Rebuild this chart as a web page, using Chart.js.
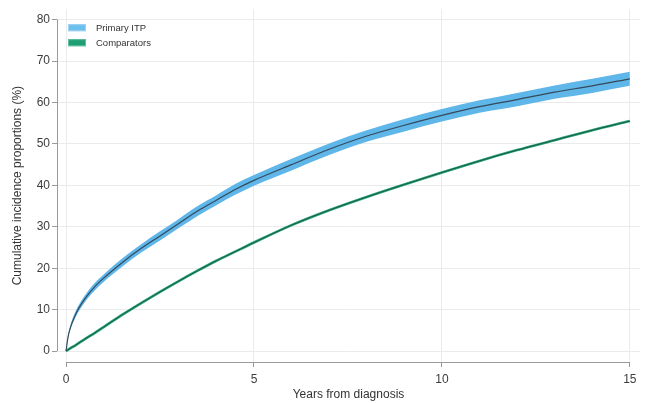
<!DOCTYPE html>
<html>
<head>
	<meta charset="utf-8">
	<title>Cumulative incidence</title>
	<style>
		html, body {
			margin: 0px;
			padding: 0px;
			background: #ffffff;
		}
		canvas {
			display: block;
		}
	</style>
</head>
<body>
	<canvas id="chart" width="646" height="403"></canvas>
	<script src="https://cdn.jsdelivr.net/npm/chart.js@4"></script>
	<script>
		// values
		const years = [0, 0.05, 0.1, 0.25, 0.5, 0.75, 1, 1.5, 2, 2.5, 3, 3.5, 4, 4.5, 5, 6, 7, 8, 9, 10, 11, 12, 13, 14, 15];
		const primaryItp = [0, 3.2, 5.2, 8.8, 12.6, 15.4, 17.6, 21.4, 24.8, 27.8, 30.8, 33.8, 36.4, 39.0, 41.2, 45.0, 48.7, 51.9, 54.5, 56.9, 59.0, 60.7, 62.5, 64.0, 65.7];
		const primaryLow = [0, 2.9, 4.7, 8.1, 11.8, 14.5, 16.7, 20.4, 23.8, 26.7, 29.7, 32.6, 35.2, 37.7, 39.9, 43.6, 47.3, 50.5, 53.0, 55.4, 57.5, 59.1, 60.9, 62.3, 64.0];
		const primaryHigh = [0, 3.5, 5.7, 9.5, 13.4, 16.3, 18.5, 22.4, 25.8, 28.9, 31.9, 35.0, 37.6, 40.3, 42.5, 46.4, 50.1, 53.3, 56.0, 58.4, 60.5, 62.3, 64.1, 65.7, 67.4];
		const comparators = [0, 0.3, 0.6, 1.4, 2.9, 4.3, 5.8, 8.8, 11.6, 14.3, 16.9, 19.4, 21.8, 24.0, 26.2, 30.4, 34.0, 37.2, 40.2, 43.1, 45.9, 48.5, 50.9, 53.3, 55.5];
		const xTicks = [0, 5, 10, 15];
		const yTicks = [0, 10, 20, 30, 40, 50, 60, 70, 80];

		const pts = arr => arr.map((v, i) => ({ x: years[i], y: v }));

		const legendItems = [
			{ text: "Primary ITP", fill: "#6dbfee", stroke: "#9fd3f2" },
			{ text: "Comparators", fill: "#1f9e74", stroke: "#5fbf9c" }
		];

		// legend inside the plot, top left
		const insideLegend = {
			id: "insideLegend",
			afterDatasetsDraw(chart) {
				const { ctx, chartArea } = chart;
				ctx.save();
				ctx.font = "9.5px 'Liberation Sans', Arial, sans-serif";
				ctx.textBaseline = "middle";
				legendItems.forEach((it, i) => {
					const x = chartArea.left + 11;
					const y = chartArea.top + 15 + i * 15;
					ctx.fillStyle = it.fill;
					ctx.fillRect(x, y, 18, 7);
					ctx.strokeStyle = it.stroke;
					ctx.lineWidth = 1;
					ctx.strokeRect(x + 0.5, y + 0.5, 17, 6);
					ctx.fillStyle = "#333";
					ctx.fillText(it.text, x + 28, y + 4);
				});
				ctx.restore();
			}
		};

		// detached axis lines, Stata style
		const axisLines = {
			id: "axisLines",
			afterDraw(chart) {
				const { ctx, chartArea, scales } = chart;
				const xs = scales.x, ys = scales.y;
				ctx.save();
				ctx.strokeStyle = "#9a9a9a";
				ctx.lineWidth = 1;
				ctx.beginPath();
				ctx.moveTo(chartArea.left + 0.5, ys.getPixelForValue(yTicks[yTicks.length - 1]));
				ctx.lineTo(chartArea.left + 0.5, ys.getPixelForValue(yTicks[0]));
				ctx.moveTo(xs.getPixelForValue(xTicks[0]), chartArea.bottom + 0.5);
				ctx.lineTo(xs.getPixelForValue(xTicks[xTicks.length - 1]), chartArea.bottom + 0.5);
				ctx.stroke();
				ctx.restore();
			}
		};

		const font = { family: "'Liberation Sans', Arial, sans-serif", size: 12 };

		new Chart(document.getElementById("chart"), {
			type: "line",
			data: {
				datasets: [
					{
						label: "Primary ITP line",
						data: pts(primaryItp),
						borderColor: "#35495a",
						borderWidth: 1.2,
						order: 1
					},
					{
						label: "Comparators line",
						data: pts(comparators),
						borderColor: "#175c40",
						borderWidth: 1,
						order: 2
					},
					{
						label: "Comparators band",
						data: pts(comparators),
						borderColor: "#27a277",
						borderWidth: 2.6,
						order: 3
					},
					{
						label: "Primary ITP upper",
						data: pts(primaryHigh),
						borderWidth: 0,
						borderColor: "rgba(0,0,0,0)",
						backgroundColor: "#5fb6e9",
						fill: "+1",
						order: 4
					},
					{
						label: "Primary ITP lower",
						data: pts(primaryLow),
						borderWidth: 0,
						borderColor: "rgba(0,0,0,0)",
						order: 5
					}
				]
			},
			options: {
				responsive: false,
				animation: false,
				layout: { padding: { top: 5, right: 6, left: 0, bottom: 0 } },
				elements: {
					point: { radius: 0 },
					line: { cubicInterpolationMode: "monotone" }
				},
				plugins: {
					legend: { display: false },
					tooltip: { enabled: false }
				},
				scales: {
					x: {
						type: "linear",
						min: -0.24,
						max: 15.27,
						afterBuildTicks: s => { s.ticks = xTicks.map(v => ({ value: v })); },
						afterFit: s => { s.height = 41; },
						border: { display: false },
						grid: { color: "#ebebeb", tickColor: "#9a9a9a", tickLength: 5 },
						ticks: { font, color: "#3c3c3c", padding: 5, maxRotation: 0 },
						title: {
							display: true,
							text: "Years from diagnosis",
							font,
							color: "#333",
							padding: { top: 0, bottom: 1 }
						}
					},
					y: {
						min: -2.63,
						max: 82.5,
						afterBuildTicks: s => { s.ticks = yTicks.map(v => ({ value: v })); },
						afterFit: s => { s.width = 57; },
						border: { display: false },
						grid: { color: "#ebebeb", tickColor: "#9a9a9a", tickLength: 5 },
						ticks: { font, color: "#3c3c3c", padding: 2 },
						title: {
							display: true,
							text: "Cumulative incidence proportions (%)",
							font,
							color: "#333",
							padding: { top: 10, bottom: 0 }
						}
					}
				}
			},
			plugins: [axisLines, insideLegend]
		});
	</script>
</body>
</html>
